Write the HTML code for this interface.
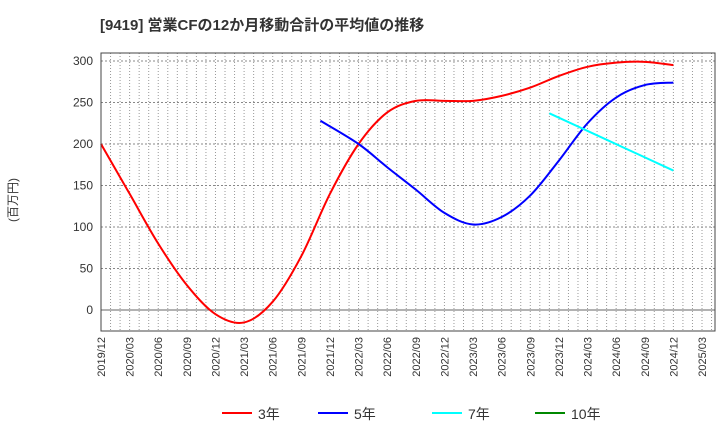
<!DOCTYPE html>
<html><head><meta charset="utf-8"><style>
body{margin:0;background:#fff;font-family:"Liberation Sans","Noto Sans CJK JP",sans-serif;}
svg text{font-family:"Liberation Sans","Noto Sans CJK JP",sans-serif;}
</style></head><body>
<svg width="720" height="440" xmlns="http://www.w3.org/2000/svg" id="chart">
<text x="100" y="30" font-size="15" font-weight="bold" fill="#333">[9419]  営業CFの12か月移動合計の平均値の推移</text>
<text transform="translate(17,200) rotate(-90)" font-size="12" fill="#333" text-anchor="middle">(百万円)</text>
<g id="grid"></g><g id="series"></g><g id="axes"></g>
<g>
<line x1="222" y1="413" x2="252" y2="413" stroke="#f00" stroke-width="2"/><text x="258" y="419" font-size="14" fill="#333">3年</text>
<line x1="318" y1="413" x2="348" y2="413" stroke="#00f" stroke-width="2"/><text x="354" y="419" font-size="14" fill="#333">5年</text>
<line x1="432" y1="413" x2="462" y2="413" stroke="#0ff" stroke-width="2"/><text x="468" y="419" font-size="14" fill="#333">7年</text>
<line x1="535" y1="413" x2="565" y2="413" stroke="#080" stroke-width="2"/><text x="571" y="419" font-size="14" fill="#333">10年</text>
</g>
</svg>
<script>
const xLabels=["2019/12","2020/03","2020/06","2020/09","2020/12","2021/03","2021/06","2021/09","2021/12","2022/03","2022/06","2022/09","2022/12","2023/03","2023/06","2023/09","2023/12","2024/03","2024/06","2024/09","2024/12","2025/03"];
const yTicks=[0,50,100,150,200,250,300];
// month offsets from 2019/12
const m3=[0,3,6,9,12,15,18,21,24,27,30,33,36,39,42,45,48,51,54,57,60];
const v3=[200,140,80,30,-5,-15,10,65,140,200,238,252,252,252,258,268,282,293,298,299,295];
const m5=[23,27,30,33,36,39,42,45,48,51,54,57,60];
const v5=[228,200,172,145,117,103,112,138,180,225,256,271,274];
const m7=[47,60];
const v7=[237,168];
const L=101,R=715,T=53,B=331;
const MW=601/63;
const X=m=>L+m*MW;
const Y=v=>310-v*(249/300);
const ns="http://www.w3.org/2000/svg";
function mk(t,a,p){const e=document.createElementNS(ns,t);for(const k in a)e.setAttribute(k,a[k]);p.appendChild(e);return e;}
const g=document.getElementById('grid'),ax=document.getElementById('axes'),s=document.getElementById('series');
for(let m=1;X(m)<R;m++){const l=mk('line',{x1:X(m),x2:X(m),y1:T,y2:B,stroke:'#999','stroke-dasharray':'1,2'},g);

}
yTicks.forEach(v=>{const l=mk('line',{x1:L,x2:R,y1:Y(v),y2:Y(v),stroke:v===0?'#666':'#888','stroke-dasharray':v===0?'':'2,2'},g);


const t=mk('text',{x:L-8,y:Y(v)+4,'font-size':12,fill:'#333','text-anchor':'end'},ax);t.textContent=v;

});
const fr=mk('rect',{x:L,y:T,width:R-L,height:B-T,fill:'none',stroke:'#444'},ax);


xLabels.forEach((lb,i)=>{const x=X(i*3);const t=mk('text',{transform:`translate(${x+4},${B+6}) rotate(-90)`,'font-size':11,fill:'#333','text-anchor':'end'},ax);t.textContent=lb;

});
function path(ms,vs){const p=ms.map((m,i)=>[X(m),Y(vs[i])]);let d=`M${p[0][0]},${p[0][1]}`;
for(let i=0;i<p.length-1;i++){const p0=p[i-1]||p[i],p1=p[i],p2=p[i+1],p3=p[i+2]||p2;
d+=` C${p1[0]+(p2[0]-p0[0])/6},${p1[1]+(p2[1]-p0[1])/6} ${p2[0]-(p3[0]-p1[0])/6},${p2[1]-(p3[1]-p1[1])/6} ${p2[0]},${p2[1]}`;}return d;}
[[m3,v3,'#f00','series-3y'],[m5,v5,'#00f','series-5y'],[m7,v7,'#0ff','series-7y']].forEach(([m,v,c,n])=>{
const e=mk('path',{d:path(m,v),fill:'none',stroke:c,'stroke-width':2},s);

});
</script>
</body></html>
